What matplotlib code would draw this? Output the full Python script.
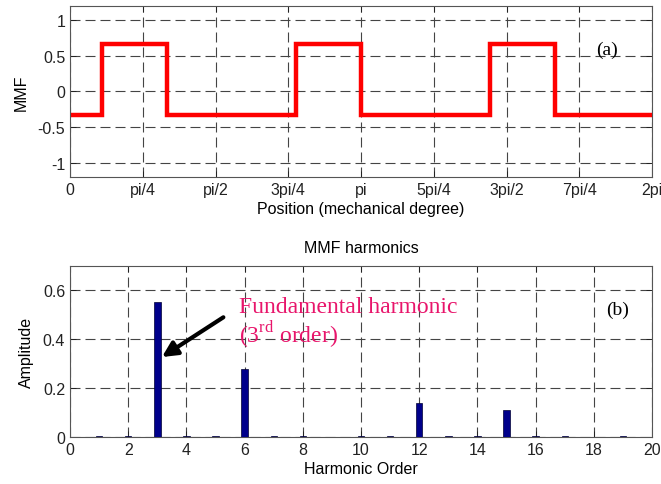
import numpy as np
import matplotlib
matplotlib.use("Agg")
import matplotlib.pyplot as plt

plt.rcParams['font.family'] = ['Liberation Sans', 'DejaVu Sans']
plt.rcParams['mathtext.fontset'] = 'custom'
plt.rcParams['mathtext.rm'] = 'Liberation Serif'

# MMF waveform: switching positions (multiples of pi) and level held after each
edge_pos = [0, 1/9, 1/3, 7/9, 1, 13/9, 5/3, 2]
edge_level = [-1/3, 2/3, -1/3, 2/3, -1/3, 2/3, -1/3, -1/3]

# Harmonic spectrum
orders = list(range(1, 20))
amplitudes = [0.004, 0.004, 0.551, 0.004, 0.004, 0.276, 0.004, 0.004, 0.0,
              0.004, 0.004, 0.138, 0.004, 0.004, 0.110, 0.004, 0.004, 0.0, 0.004]

pos_ticks = [0, 0.25, 0.5, 0.75, 1, 1.25, 1.5, 1.75, 2]
pos_labels = ['0', 'pi/4', 'pi/2', '3pi/4', 'pi', '5pi/4', '3pi/2', '7pi/4', '2pi']

fig = plt.figure(figsize=(6.61, 4.85), dpi=100)
ax1 = fig.add_axes([0.1059, 0.633, 0.8805, 0.3526])
ax2 = fig.add_axes([0.1059, 0.0975, 0.8805, 0.3526])

fs = 11.5
grid_kw = dict(color='#444444', linestyle=(0, (9, 4.5)), linewidth=0.8)

for ax in (ax1, ax2):
    ax.tick_params(direction='in', top=True, right=True, length=4, labelsize=fs,
                   width=0.7, colors='#222222')
    for s in ax.spines.values():
        s.set_linewidth(0.8)
        s.set_color('#555555')
    ax.grid(True, **grid_kw)
    ax.set_axisbelow(True)

ax1.plot(np.array(edge_pos) * np.pi, edge_level, drawstyle='steps-post',
         color='#ff0000', linewidth=3.2, solid_joinstyle='miter')
ax1.set_xlim(0, 2 * np.pi)
ax1.set_ylim(-1.2, 1.2)
ax1.set_xticks(np.array(pos_ticks) * np.pi)
ax1.set_xticklabels(pos_labels)
ax1.set_yticks([-1, -0.5, 0, 0.5, 1])
ax1.set_yticklabels(['-1', '-0.5', '0', '0.5', '1'])
ax1.set_ylabel('MMF', fontsize=fs, labelpad=6)
ax1.set_xlabel('Position (mechanical degree)', fontsize=fs, labelpad=3)
ax1.text(0.923, 0.745, '(a)', transform=ax1.transAxes, fontsize=14,
         family='Liberation Serif', ha='center', va='center')

ax2.bar(orders, amplitudes, width=0.22, color='#00008b', edgecolor='#000033',
        linewidth=0.5, zorder=3)
ax2.set_xlim(0, 20)
ax2.set_ylim(0, 0.7)
ax2.set_xticks(range(0, 21, 2))
ax2.set_yticks([0, 0.2, 0.4, 0.6])
ax2.set_yticklabels(['0', '0.2', '0.4', '0.6'])
ax2.set_ylabel('Amplitude', fontsize=fs, labelpad=6)
ax2.set_xlabel('Harmonic Order', fontsize=fs, labelpad=3)
ax2.set_title('MMF harmonics', fontsize=fs, pad=10)
ax2.text(0.94, 0.745, '(b)', transform=ax2.transAxes, fontsize=14,
         family='Liberation Serif', ha='center', va='center')

pink = '#e8156b'
ax2.text(5.8, 0.535, 'Fundamental harmonic', color=pink, fontsize=17,
         family='Liberation Serif', ha='left', va='center')
ax2.text(5.8, 0.42, r'(3$^{\rm rd}$ order)', color=pink, fontsize=17,
         family='Liberation Serif', ha='left', va='center')
ax2.annotate('', xy=(3.08, 0.32), xytext=(5.35, 0.495),
             arrowprops=dict(arrowstyle='-|>,head_length=0.9,head_width=0.45',
                             color='black', linewidth=3.0), zorder=5)

fig.savefig('out.png', dpi=100)
